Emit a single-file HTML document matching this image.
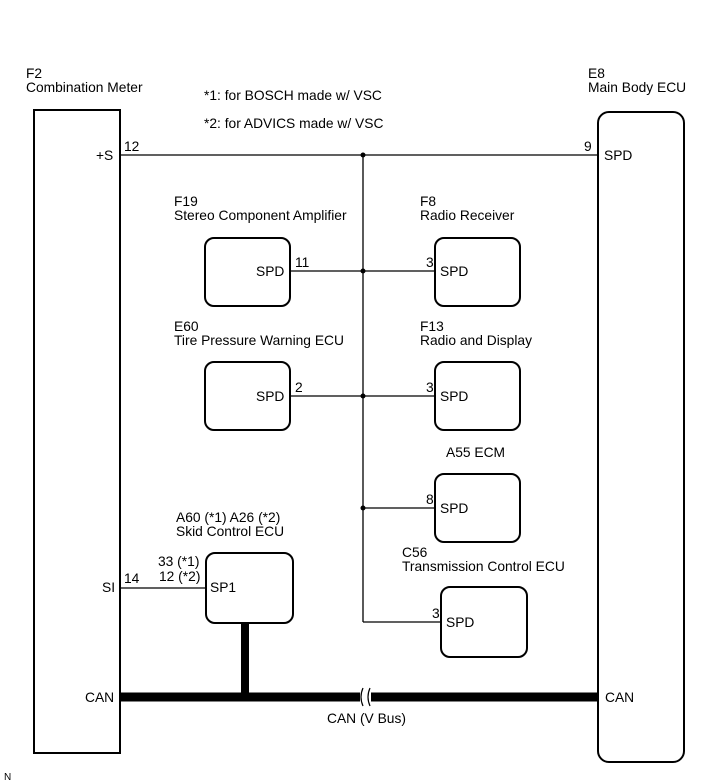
<!DOCTYPE html>
<html><head><style>
body{margin:0;background:#fff;}
svg{display:block;}
text{font-family:"Liberation Sans",sans-serif;font-size:13.8px;fill:#000;}
</style></head><body>
<svg width="713" height="782" viewBox="0 0 713 782">
<g fill="none" stroke="#000">
<rect x="34" y="110" width="86" height="643" stroke-width="2"/>
<rect x="598" y="112" width="86" height="650" rx="11" stroke-width="2"/>
<rect x="205" y="238" width="85" height="68" rx="9" stroke-width="2"/>
<rect x="435" y="238" width="85" height="68" rx="9" stroke-width="2"/>
<rect x="205" y="362" width="85" height="68" rx="9" stroke-width="2"/>
<rect x="435" y="362" width="85" height="68" rx="9" stroke-width="2"/>
<rect x="435" y="474" width="85" height="68" rx="9" stroke-width="2"/>
<rect x="441" y="587" width="86" height="70" rx="9" stroke-width="2"/>
<rect x="206" y="553" width="87" height="70" rx="9" stroke-width="2"/>
<g stroke-width="1.3">
<line x1="120" y1="155" x2="598" y2="155"/>
<line x1="363" y1="155" x2="363" y2="622"/>
<line x1="290" y1="271" x2="435" y2="271"/>
<line x1="290" y1="396" x2="435" y2="396"/>
<line x1="363" y1="508" x2="435" y2="508"/>
<line x1="363" y1="622" x2="441" y2="622"/>
<line x1="120" y1="588" x2="206" y2="588"/>
</g>
<line x1="245" y1="623" x2="245" y2="697" stroke-width="8"/>
<line x1="120" y1="697" x2="360" y2="697" stroke-width="9"/>
<line x1="371" y1="697" x2="598" y2="697" stroke-width="9"/>
<path d="M363 688 q-4 9 0 18 M370 688 q-4 9 0 18" stroke-width="1.2"/>
</g>
<g fill="#000">
<circle cx="363" cy="155" r="2.5"/><circle cx="363" cy="271" r="2.5"/>
<circle cx="363" cy="396" r="2.5"/><circle cx="363" cy="508" r="2.5"/>
</g>
<text x="26" y="78">F2</text><text x="26" y="92">Combination Meter</text>
<text x="588" y="78">E8</text><text x="588" y="92">Main Body ECU</text>
<text x="204" y="100">*1: for BOSCH made w/ VSC</text>
<text x="204" y="128">*2: for ADVICS made w/ VSC</text>
<text x="96" y="160">+S</text><text x="124" y="151">12</text>
<text x="584" y="151">9</text><text x="604" y="160">SPD</text>
<text x="174" y="206">F19</text><text x="174" y="220">Stereo Component Amplifier</text>
<text x="420" y="206">F8</text><text x="420" y="220">Radio Receiver</text>
<text x="256" y="276">SPD</text><text x="295" y="267">11</text>
<text x="426" y="267">3</text><text x="440" y="276">SPD</text>
<text x="174" y="331">E60</text><text x="174" y="345">Tire Pressure Warning ECU</text>
<text x="420" y="331">F13</text><text x="420" y="345">Radio and Display</text>
<text x="256" y="401">SPD</text><text x="295" y="392">2</text>
<text x="426" y="392">3</text><text x="440" y="401">SPD</text>
<text x="446" y="457">A55  ECM</text>
<text x="426" y="504">8</text><text x="440" y="513">SPD</text>
<text x="402" y="557">C56</text><text x="402" y="571">Transmission Control ECU</text>
<text x="432" y="618">3</text><text x="446" y="627">SPD</text>
<text x="176" y="522">A60 (*1) A26 (*2)</text><text x="176" y="536">Skid Control ECU</text>
<text x="158" y="566">33 (*1)</text><text x="159" y="581">12 (*2)</text>
<text x="102" y="592">SI</text><text x="124" y="583">14</text>
<text x="210" y="592">SP1</text>
<text x="85" y="702">CAN</text><text x="605" y="702">CAN</text>
<text x="327" y="723">CAN (V Bus)</text>
<text x="4" y="780" style="font-size:10px">N</text>
</svg>
</body></html>
